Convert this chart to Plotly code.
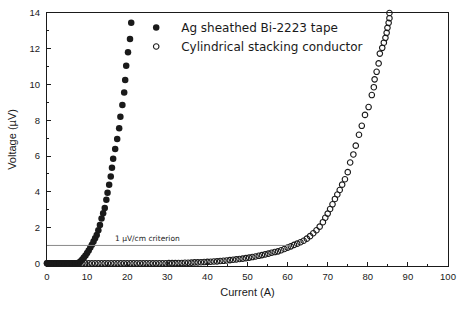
import plotly.graph_objects as go

# Ag sheathed Bi-2223 tape (filled circles)
tape_current = [0.0, 0.4, 0.8, 1.2, 1.6, 2.0, 2.4, 2.8, 3.2, 3.6, 4.0, 4.4, 4.8, 5.2, 5.6,
                6.0, 6.4, 6.8, 7.2, 7.6, 8.0, 8.4, 8.8, 9.2, 9.6, 10.0, 10.4, 10.8, 11.2,
                11.6, 12.0, 12.4, 12.8, 13.2, 13.6, 14.0, 14.4, 14.8, 15.1, 15.5, 15.9,
                16.2, 16.5, 17.0, 17.5, 18.0, 18.3, 18.8, 19.25, 19.5, 19.75, 20.2, 20.7, 21.0]
tape_voltage = [0.0, 0.0, 0.0, 0.0, 0.0, 0.0, 0.0, 0.0, 0.0, 0.0, 0.0, 0.0, 0.0, 0.0, 0.0,
                0.0, 0.0, 0.0, 0.0, 0.0, 0.05, 0.12, 0.22, 0.32, 0.44, 0.58, 0.72, 0.88, 1.04,
                1.22, 1.4, 1.58, 1.85, 2.15, 2.5, 2.8, 3.1, 3.55, 3.95, 4.4, 4.85,
                5.35, 5.85, 6.4, 6.95, 7.55, 8.2, 8.85, 9.55, 10.25, 11.05, 11.8, 12.55, 13.45]

# Cylindrical stacking conductor (open circles)
cyl_current = [0.0, 0.8, 1.6, 2.4, 3.2, 4.0, 4.8, 5.6, 6.4, 7.2, 8.0, 8.8, 9.6, 10.4, 11.2,
               12.0, 12.8, 13.6, 14.4, 15.2, 16.0, 16.8, 17.6, 18.4, 19.2, 20.0, 20.8, 21.6,
               22.4, 23.2, 24.0, 24.8, 25.6, 26.4, 27.2, 28.0, 28.8, 29.6, 30.4, 31.2, 32.0,
               32.8, 33.6, 34.4, 35.2, 36.0, 36.8, 37.6, 38.4, 39.2, 40.0, 40.8, 41.6, 42.4,
               43.2, 44.0, 44.8, 45.6, 46.4, 47.2, 48.0, 48.8, 49.6, 50.4, 51.2, 52.0, 52.8,
               53.6, 54.4, 55.2, 56.0, 56.8, 57.6, 58.4, 59.2, 60.0, 60.8, 61.6, 62.4, 63.2,
               64.0, 64.8, 65.6, 66.4, 67.2, 68.0, 68.8, 69.4, 70.0, 70.6, 71.2, 71.8, 72.4,
               73.0, 73.6, 74.3, 75.0, 75.6, 76.4, 77.0, 77.8, 78.5, 79.3, 80.2, 81.0, 81.5,
               81.7, 82.2, 82.7, 83.0, 83.6, 84.0, 84.4, 84.7, 84.9, 85.2, 85.4, 85.4]
cyl_voltage = [0.0, 0.0, 0.0, 0.0, 0.0, 0.0, 0.0, 0.0, 0.0, 0.0, 0.0, 0.0, 0.0, 0.0, 0.0,
               0.0, 0.0, 0.0, 0.0, 0.0, 0.0, 0.0, 0.0, 0.0, 0.0, 0.0, 0.0, 0.0,
               0.0, 0.0, 0.0, 0.0, 0.0, 0.0, 0.0, 0.0, 0.0, 0.0, 0.01, 0.01, 0.01,
               0.02, 0.02, 0.03, 0.03, 0.04, 0.05, 0.05, 0.06, 0.07, 0.08, 0.09, 0.1, 0.11,
               0.13, 0.14, 0.16, 0.18, 0.2, 0.22, 0.24, 0.26, 0.29, 0.32, 0.35, 0.38, 0.42,
               0.46, 0.5, 0.54, 0.59, 0.63, 0.67, 0.73, 0.8, 0.88, 0.95, 1.03, 1.1, 1.18,
               1.26, 1.38, 1.52, 1.68, 1.85, 2.05, 2.3, 2.55, 2.78, 3.04, 3.3, 3.6, 3.85,
               4.1, 4.4, 4.7, 5.1, 5.64, 6.09, 6.58, 7.19, 7.69, 8.3, 8.74, 9.41, 9.85,
               10.29, 10.71, 11.18, 11.73, 12.05, 12.34, 12.61, 12.89, 13.17, 13.45, 13.71, 14.0]

criterion_voltage = 1.0
criterion_end = 60.8
criterion_label = "1 µV/cm criterion"

x_ticks = [0, 10, 20, 30, 40, 50, 60, 70, 80, 90, 100]
y_ticks = [0, 2, 4, 6, 8, 10, 12, 14]

FONT = "Liberation Sans, Arial, sans-serif"
LEG_FONT = "DejaVu Sans, Liberation Sans, sans-serif"
INK = "#1a1a1a"

fig = go.Figure()
fig.add_trace(go.Scatter(
    x=tape_current, y=tape_voltage, mode="markers",
    name="Ag sheathed Bi-2223 tape",
    marker=dict(symbol="circle", size=6.5, color=INK),
    cliponaxis=False,
))
fig.add_trace(go.Scatter(
    x=cyl_current, y=cyl_voltage, mode="markers",
    name="Cylindrical stacking conductor",
    marker=dict(symbol="circle-open", size=5.5, color=INK, line=dict(width=1.1, color=INK)),
    cliponaxis=False,
))

fig.add_shape(type="line", x0=0, x1=criterion_end, y0=criterion_voltage, y1=criterion_voltage,
              xref="x", yref="y", line=dict(color="#8a8a8a", width=1))
fig.add_annotation(x=16.5, y=criterion_voltage, text=criterion_label, showarrow=False,
                   xanchor="left", yanchor="bottom", yshift=0,
                   font=dict(family=LEG_FONT, size=7.5, color=INK))

axis_common = dict(
    showgrid=False, zeroline=False, showline=True, linecolor=INK, linewidth=1,
    mirror=True, ticks="inside", ticklen=4, tickwidth=1, tickcolor=INK,
    tickfont=dict(family=FONT, size=9.5, color=INK),
)

fig.update_layout(
    width=463, height=309,
    margin=dict(l=47, r=7, t=10, b=43),
    paper_bgcolor="white", plot_bgcolor="white",
    showlegend=True,
    legend=dict(x=0.21, y=1.0, xanchor="left", yanchor="top",
                bgcolor="rgba(0,0,0,0)", font=dict(family=LEG_FONT, size=12, color=INK),
                itemwidth=40, tracegroupgap=0),
    xaxis=dict(range=[0, 100], tickvals=x_ticks, ticklabelstandoff=2,
               minor=dict(ticks="inside", ticklen=2, dtick=5, tickcolor=INK),
               title=dict(text="Current (A)", font=dict(family=FONT, size=11, color=INK), standoff=6),
               **axis_common),
    yaxis=dict(range=[-0.15, 14], tickvals=y_ticks, ticklabelstandoff=4,
               minor=dict(ticks="inside", ticklen=2, dtick=1, tickcolor=INK),
               title=dict(text="Voltage (µV)", font=dict(family=FONT, size=11, color=INK), standoff=10),
               **axis_common),
)

fig.write_html("out.html", config={"displayModeBar": False},
               post_script="document.body.style.margin='0';document.body.style.overflow='hidden';")
